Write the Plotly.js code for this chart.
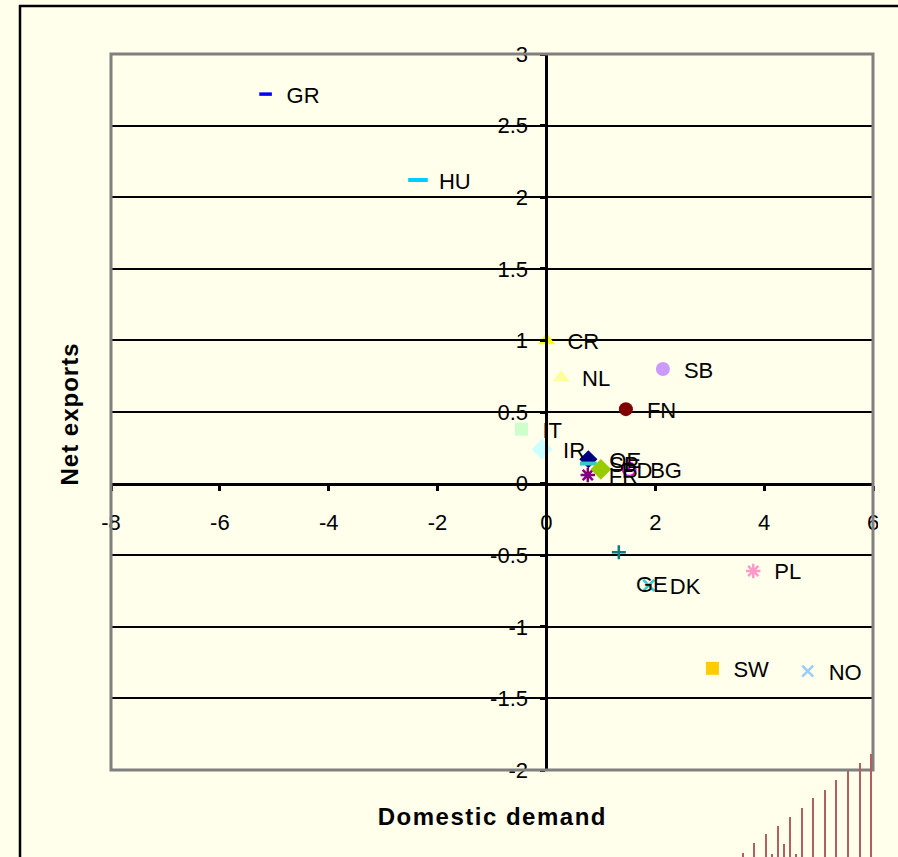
<!DOCTYPE html>
<html>
<head>
<meta charset="utf-8">
<script src="https://cdn.plot.ly/plotly-3.0.1.min.js"></script>
<style>
  html, body { margin: 0; padding: 0; background: #FFFFEB; overflow: hidden; width: 898px; height: 857px; }
  #chart { width: 898px; height: 857px; overflow: hidden; }
  g.annotation[data-index="0"] text { letter-spacing: 1.5px; }
  g.annotation[data-index="1"] text { letter-spacing: 1px; }
</style>
</head>
<body>
<div id="chart"></div>
<script>
// Country codes and their coordinates (domestic demand vs net exports contribution)
const countries      = ["GR", "HU", "CR", "NL", "SB", "FN", "IT", "IR", "OE", "SP", "FR", "PD", "BG", "GE", "DK", "PL", "SW", "NO"];
const domesticDemand = [-5.16, -2.36, 0.00, 0.27, 2.14, 1.46, -0.46, -0.08, 0.77, 0.77, 0.76, 1.00, 1.52, 1.33, 1.88, 3.80, 3.05, 4.80];
const netExports     = [2.72, 2.12, 1.00, 0.74, 0.80, 0.52, 0.38, 0.24, 0.17, 0.14, 0.06, 0.10, 0.10, -0.48, -0.71, -0.61, -1.29, -1.31];

const xTickValues = [-8, -6, -4, -2, 0, 2, 4, 6];
const yTickValues = [-2, -1.5, -1, -0.5, 0, 0.5, 1, 1.5, 2, 2.5, 3];

// Marker look for each country, in the same order as above
const markerSymbols = ["line-ew-open", "line-ew-open", "triangle-up", "triangle-up", "circle", "circle", "square", "diamond",
                       "diamond", "line-ew-open", "asterisk-open", "diamond", "circle-open-dot", "cross-thin-open",
                       "x-thin-open", "asterisk-open", "square", "x-thin-open"];
const markerColors  = ["#0000FF", "#00CCFF", "#FFFF00", "#FFFF99", "#CC99FF", "#800000", "#CCFFCC", "#CCFFFF",
                       "#000080", "#33CCCC", "#800080", "#99CC00", "#FF00FF", "#008080",
                       "#33CCCC", "#FF99CC", "#FFCC00", "#99CCFF"];
const markerSizes   = [9, 14, 15, 15, 14, 14, 13, 16, 14, 12, 12, 16, 13, 10, 11, 12, 13, 11];
const markerLines   = [3.5, 4, 0, 0, 0, 0, 0, 0, 0, 4, 2.5, 0, 2, 2.5, 2.5, 2.5, 0, 2.5];

// GE's label sits below its marker, drawn separately
const shiftedLabel = "GE";

const FONT = "Arial, 'Liberation Sans', Helvetica, sans-serif";
const BG = "#FFFFEB";

// plot-area pixel helpers for decorative shapes
const W = 898, H = 857;
const PL = 111, PR = 873, PT = 54, PB = 770;
const px2x = p => (p - PL) / (PR - PL);
const px2y = p => (PB - p) / (PB - PT);

// red hatch strokes in the lower right corner of the sheet
const hatchX   = [743, 754, 766, 772, 778, 784, 790, 796, 802, 813, 825, 836, 848, 860, 871];
const hatchTop = [853, 843, 834, 854, 826, 844, 817, 854, 808, 798, 790, 780, 771, 763, 754];

const Y_RANGE = [-2, 3];
// labels sit a few pixels lower than their points
const labelDrop = 3 * (Y_RANGE[1] - Y_RANGE[0]) / (PB - PT);

const labelText = countries.map(c => (c === shiftedLabel ? "" : c));

const labelTrace = {
  type: "scatter",
  mode: "markers+text",
  x: domesticDemand,
  y: netExports,
  yaxis: "y2",
  text: labelText,
  textposition: "middle right",
  textfont: { family: FONT, size: 22, color: "#000000" },
  marker: { size: 32, opacity: 0 },
  hoverinfo: "skip",
  showlegend: false
};

const pointTrace = {
  type: "scatter",
  mode: "markers",
  x: domesticDemand,
  y: netExports,
  text: countries,
  marker: {
    symbol: markerSymbols,
    color: markerColors,
    size: markerSizes,
    opacity: 1,
    line: { color: markerColors, width: markerLines }
  },
  hoverinfo: "text+x+y",
  showlegend: false
};

const gi = countries.indexOf(shiftedLabel);

const shapes = [
  // plain sheet strip along the right edge
  { type: "rect", xref: "paper", yref: "paper", x0: px2x(878), y0: px2y(H), x1: px2x(W), y1: px2y(0),
    fillcolor: BG, line: { width: 0 }, layer: "above" },
  // outer sheet frame (top and left edges), kept inside the page
  { type: "line", xref: "paper", yref: "paper", x0: px2x(19), y0: px2y(6), x1: px2x(W), y1: px2y(6),
    line: { color: "#000000", width: 2.5 }, layer: "above" },
  { type: "line", xref: "paper", yref: "paper", x0: px2x(20), y0: px2y(5), x1: px2x(20), y1: px2y(H),
    line: { color: "#000000", width: 2.5 }, layer: "above" },
  // plot area frame
  { type: "rect", xref: "paper", yref: "paper", x0: 0, y0: 0, x1: 1, y1: 1,
    line: { color: "#808080", width: 3 }, layer: "above" }
];
hatchX.forEach((hx, i) => {
  shapes.push({ type: "line", xref: "paper", yref: "paper",
    x0: px2x(hx), x1: px2x(hx), y0: px2y(hatchTop[i]), y1: px2y(H),
    line: { color: "#B06060", width: 2 }, layer: "above" });
});

const layout = {
  width: W,
  height: H,
  margin: { l: PL, r: W - PR, t: PT, b: H - PB, pad: 0 },
  paper_bgcolor: BG,
  plot_bgcolor: BG,
  font: { family: FONT, size: 22, color: "#000000" },
  showlegend: false,
  hovermode: "closest",
  xaxis: {
    range: [-8, 6],
    tickvals: xTickValues,
    ticktext: xTickValues.map(String),
    anchor: "free",
    position: 0.4,
    side: "bottom",
    showgrid: false,
    zeroline: false,
    showline: true,
    linecolor: "#000000",
    linewidth: 3,
    ticks: "outside",
    ticklen: 5,
    tickwidth: 3,
    tickcolor: "#000000",
    ticklabelstandoff: 13,
    tickfont: { family: FONT, size: 22, color: "#000000" },
    fixedrange: true
  },
  yaxis: {
    range: Y_RANGE,
    tickvals: yTickValues,
    ticktext: yTickValues.map(String),
    anchor: "free",
    position: 8 / 14,
    side: "left",
    showgrid: true,
    gridcolor: "#000000",
    gridwidth: 1.6,
    zeroline: false,
    showline: true,
    linecolor: "#000000",
    linewidth: 3,
    ticks: "outside",
    ticklen: 5,
    tickwidth: 3,
    tickcolor: "#000000",
    ticklabelstandoff: 8,
    tickfont: { family: FONT, size: 22, color: "#000000" },
    fixedrange: true
  },
  yaxis2: {
    overlaying: "y",
    range: [Y_RANGE[0] + labelDrop, Y_RANGE[1] + labelDrop],
    visible: false,
    fixedrange: true
  },
  annotations: [
    { text: "<b>Domestic demand</b>", xref: "paper", yref: "paper", x: 0.5, y: px2y(817),
      xanchor: "center", yanchor: "middle", showarrow: false,
      font: { family: FONT, size: 24, color: "#000000" } },
    { text: "<b>Net exports</b>", xref: "paper", yref: "paper", x: px2x(69), y: px2y(414),
      xanchor: "center", yanchor: "middle", textangle: -90, showarrow: false,
      font: { family: FONT, size: 24, color: "#000000" } },
    { text: countries[gi], xref: "x", yref: "y", x: domesticDemand[gi], y: netExports[gi],
      xanchor: "left", yanchor: "middle", xshift: 15, yshift: -32, showarrow: false,
      font: { family: FONT, size: 22, color: "#000000" } }
  ],
  shapes: shapes
};

Plotly.newPlot("chart", [labelTrace, pointTrace], layout, { displayModeBar: false });
</script>
</body>
</html>
